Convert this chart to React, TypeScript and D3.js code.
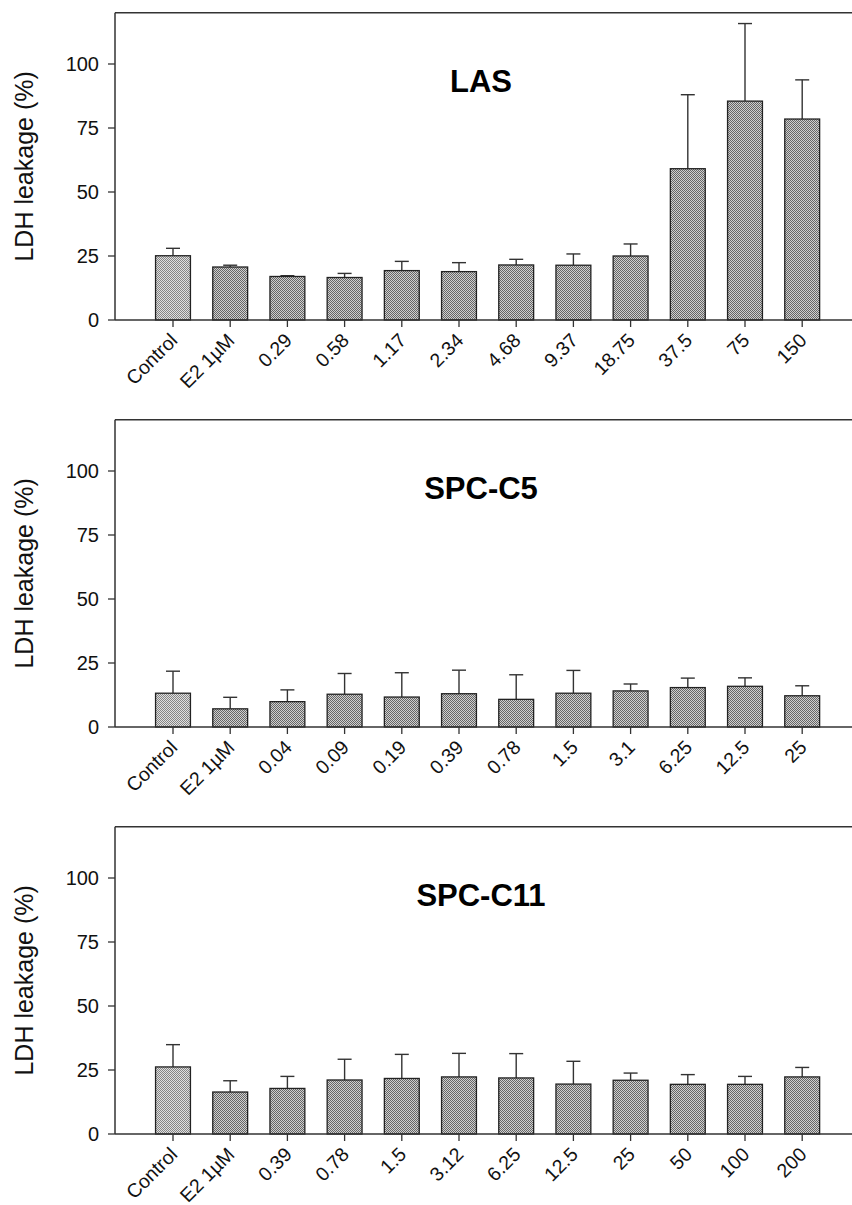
import React from "react";
import { scaleBand, scaleLinear } from "d3";

// LAS panel
const lasLabels = ["Control", "E2 1µM", "0.29", "0.58", "1.17", "2.34", "4.68", "9.37", "18.75", "37.5", "75", "150"];
const lasMeans = [25.1, 20.7, 17.0, 16.6, 19.3, 18.9, 21.5, 21.4, 25.0, 59.1, 85.5, 78.5];
const lasErrs = [2.9, 0.7, 0.3, 1.6, 3.6, 3.5, 2.2, 4.4, 4.7, 28.9, 30.3, 15.3];

// SPC-C5 panel
const c5Labels = ["Control", "E2 1µM", "0.04", "0.09", "0.19", "0.39", "0.78", "1.5", "3.1", "6.25", "12.5", "25"];
const c5Means = [13.2, 7.1, 9.9, 12.8, 11.7, 13.0, 10.8, 13.2, 14.1, 15.4, 15.9, 12.2];
const c5Errs = [8.6, 4.5, 4.6, 8.1, 9.5, 9.2, 9.6, 8.9, 2.7, 3.7, 3.3, 3.9];

// SPC-C11 panel
const c11Labels = ["Control", "E2 1µM", "0.39", "0.78", "1.5", "3.12", "6.25", "12.5", "25", "50", "100", "200"];
const c11Means = [26.2, 16.4, 17.8, 21.1, 21.7, 22.3, 21.9, 19.5, 21.0, 19.4, 19.4, 22.3];
const c11Errs = [8.7, 4.4, 4.7, 8.1, 9.4, 9.2, 9.5, 8.9, 2.8, 3.8, 3.1, 3.7];

const yTicks = [0, 25, 50, 75, 100];

const font = "'Liberation Sans', Arial, sans-serif";
const W = 852;
const H = 1205;

function Panel({ title, labels, means, errs, zeroY }) {
  const y = scaleLinear().domain([0, 120]).range([zeroY, zeroY - 307.2]);
  const x = scaleBand().domain(labels).range([144.4, 830.8]).paddingInner(0.39).paddingOuter(0.195);
  const left = 115;
  const top = y(120);
  return (
    <g>
      {/* frame: top and left edges */}
      <line x1={left} x2={W} y1={top} y2={top} stroke="#333" strokeWidth={1.5} />
      <line x1={left} x2={left} y1={top} y2={zeroY} stroke="#333" strokeWidth={1.5} />
      {yTicks.map((t) => (
        <g key={t}>
          <line x1={left - 7} x2={left} y1={y(t)} y2={y(t)} stroke="#333" strokeWidth={1.3} />
          <text x={left - 16} y={y(t)} dy="0.35em" textAnchor="end" fontSize={20} fontFamily={font} fill="#111">
            {t}
          </text>
        </g>
      ))}
      <text
        transform={`translate(33,${(top + zeroY) / 2}) rotate(-90)`}
        textAnchor="middle"
        fontSize={25}
        fontFamily={font}
        fill="#111"
      >
        LDH leakage (%)
      </text>
      <text x={481} y={zeroY - 228} textAnchor="middle" fontSize={31} fontWeight="bold" fontFamily={font} fill="#000">
        {title}
      </text>
      {labels.map((l, i) => {
        const bx = x(l);
        const bw = x.bandwidth();
        const cx = bx + bw / 2;
        const yt = y(means[i]);
        const ye = y(means[i] + errs[i]);
        return (
          <g key={l}>
            <line x1={cx} x2={cx} y1={yt} y2={ye} stroke="#333" strokeWidth={1.4} />
            <line x1={cx - 7} x2={cx + 7} y1={ye} y2={ye} stroke="#333" strokeWidth={1.4} />
            <rect
              x={bx}
              y={yt}
              width={bw}
              height={zeroY - yt}
              fill={i === 0 ? "url(#dotsLight)" : "url(#dots)"}
              stroke="#222"
              strokeWidth={1.3}
            />
            <line x1={cx} x2={cx} y1={zeroY} y2={zeroY + 7} stroke="#333" strokeWidth={1.3} />
            <text
              transform={`translate(${cx - 4},${zeroY + 12}) rotate(-45)`}
              textAnchor="end"
              dy="0.7em"
              fontSize={19.5}
              fontFamily={font}
              fill="#111"
            >
              {l}
            </text>
          </g>
        );
      })}
      <line x1={left} x2={W} y1={zeroY} y2={zeroY} stroke="#333" strokeWidth={1.5} />
    </g>
  );
}

export default function App() {
  return (
    <svg
      width={W}
      height={H}
      style={{ position: "absolute", left: 0, top: 0, background: "#fff" }}
    >
      <defs>
        <pattern id="dots" width={2} height={2} patternUnits="userSpaceOnUse">
          <rect width={2} height={2} fill="#cfcfcf" />
          <rect width={1} height={1} fill="#666" />
          <rect x={1} y={1} width={1} height={1} fill="#666" />
        </pattern>
        <pattern id="dotsLight" width={2} height={2} patternUnits="userSpaceOnUse">
          <rect width={2} height={2} fill="#e0e0e0" />
          <rect width={1} height={1} fill="#858585" />
          <rect x={1} y={1} width={1} height={1} fill="#858585" />
        </pattern>
      </defs>
      <rect width={W} height={H} fill="#fff" />
      <Panel title="LAS" labels={lasLabels} means={lasMeans} errs={lasErrs} zeroY={320} />
      <Panel title="SPC-C5" labels={c5Labels} means={c5Means} errs={c5Errs} zeroY={727} />
      <Panel title="SPC-C11" labels={c11Labels} means={c11Means} errs={c11Errs} zeroY={1134} />
    </svg>
  );
}
